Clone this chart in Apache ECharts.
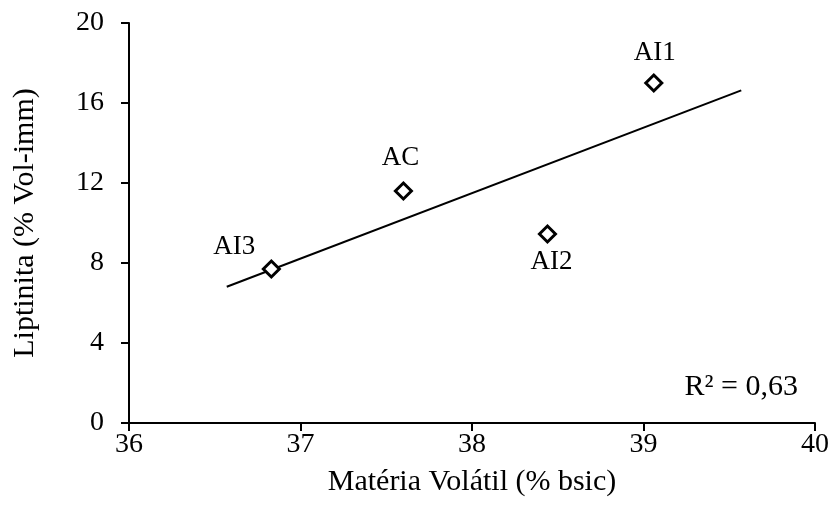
<!DOCTYPE html>
<html>
<head>
<meta charset="utf-8">
<script src="https://cdn.jsdelivr.net/npm/echarts@6/dist/echarts.min.js"></script>
<style>html,body{margin:0;padding:0;background:#fff;}#c{width:832px;height:521px;}</style>
</head>
<body>
<div id="c"></div>
<script>
// Data
const sampleNames = ['AI3', 'AC', 'AI2', 'AI1'];
const volatileMatter = [36.83, 37.60, 38.44, 39.06];
const liptinite = [7.7, 11.6, 9.45, 17.0];
const trendX = [36.57, 39.57];
const trendY = [6.81, 16.63];
const xTicks = [36, 37, 38, 39, 40];
const yTicks = [0, 4, 8, 12, 16, 20];
const r2Text = 'R² = 0,63';

const labelOffsets = {
  'AI3': [-37, -22],
  'AC': [-3, -33],
  'AI2': [4, 28],
  'AI1': [1, -30]
};

const FONT = 'Liberation Serif';

const chart = echarts.init(document.getElementById('c'), null, {renderer: 'canvas'});

const scatterData = sampleNames.map((n, i) => ({
  name: n,
  value: [volatileMatter[i], liptinite[i]],
  label: {
    show: true,
    position: 'inside',
    offset: labelOffsets[n],
    formatter: n,
    color: '#000',
    textBorderWidth: 0,
    textBorderColor: 'transparent',
    fontFamily: FONT,
    fontSize: 27,
    align: 'center',
    verticalAlign: 'middle'
  }
}));

chart.setOption({
  animation: false,
  backgroundColor: '#fff',
  grid: {left: 129, right: 16, top: 23, bottom: 98, containLabel: false},
  xAxis: {
    type: 'value',
    min: xTicks[0], max: xTicks[xTicks.length - 1], interval: 1,
    name: 'Matéria Volátil (% bsic)',
    nameLocation: 'middle',
    nameGap: 44,
    nameTextStyle: {fontFamily: FONT, fontSize: 30, color: '#000'},
    axisLine: {show: true, onZero: false, lineStyle: {color: '#000', width: 2}},
    axisTick: {show: true, length: 8, lineStyle: {color: '#000', width: 2}},
    axisLabel: {fontFamily: FONT, fontSize: 28, color: '#000', margin: 8},
    splitLine: {show: false}
  },
  yAxis: {
    type: 'value',
    min: yTicks[0], max: yTicks[yTicks.length - 1], interval: 4,
    name: 'Liptinita (% Vol-imm)',
    nameLocation: 'middle',
    nameGap: 89,
    nameTextStyle: {fontFamily: FONT, fontSize: 30, color: '#000'},
    axisLine: {show: true, onZero: false, lineStyle: {color: '#000', width: 2}},
    axisTick: {show: true, length: 8, lineStyle: {color: '#000', width: 2}},
    axisLabel: {fontFamily: FONT, fontSize: 28, color: '#000', margin: 25},
    splitLine: {show: false}
  },
  series: [
    {
      type: 'line',
      data: trendX.map((x, i) => [x, trendY[i]]),
      showSymbol: false,
      symbol: 'none',
      lineStyle: {color: '#000', width: 2},
      silent: true,
      z: 1
    },
    {
      type: 'scatter',
      data: scatterData,
      symbol: 'diamond',
      symbolSize: 16,
      itemStyle: {color: '#fff', borderColor: '#000', borderWidth: 3, opacity: 1},
      emphasis: {disabled: true},
      z: 3
    }
  ],
  graphic: [{
    type: 'text',
    right: 34,
    top: 372,
    style: {text: r2Text, fontFamily: FONT, fontSize: 30, fill: '#000'}
  }]
});
</script>
</body>
</html>
